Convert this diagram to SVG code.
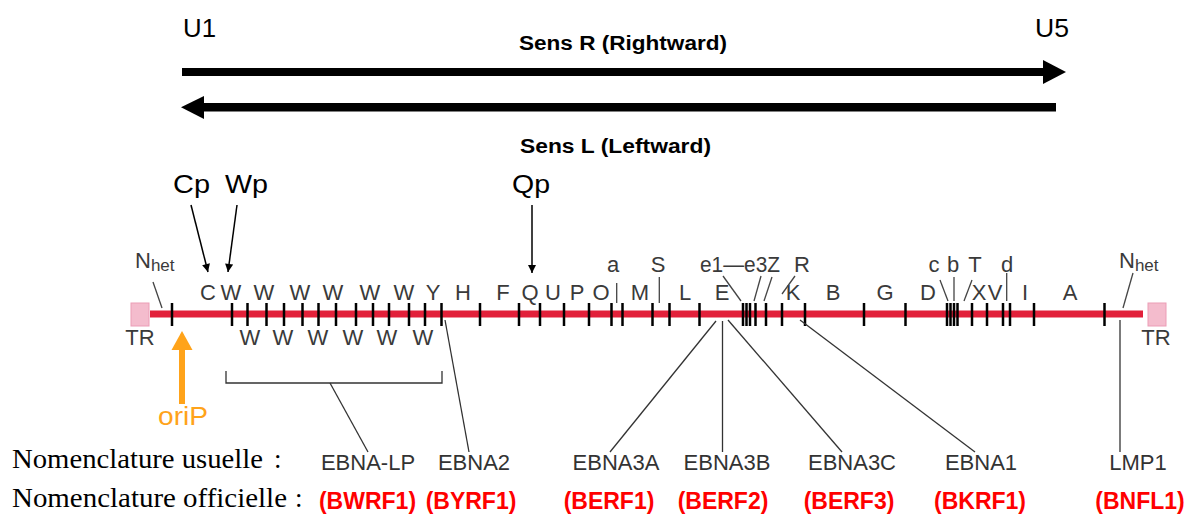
<svg xmlns="http://www.w3.org/2000/svg" width="1187" height="520" viewBox="0 0 1187 520">
<defs>
<style>
text{font-family:"Liberation Sans",Arial,sans-serif}
.big{font-size:26px;fill:#000}
.dir{font-size:19.5px;font-weight:bold;fill:#000}
.g{font-size:22px;fill:#3a3a3a;text-anchor:middle}
.lbl{font-size:22px;fill:#333;text-anchor:middle}
.red{font-size:23px;font-weight:bold;fill:#ff0000;text-anchor:middle}
.serif{font-family:"Liberation Serif","Times New Roman",serif;font-size:27px;fill:#000}
.tick{stroke:#000;stroke-width:2.5}
.thin{stroke:#444;stroke-width:1.3;fill:none}
.conn{stroke:#333;stroke-width:1.3;fill:none}
.tr{fill:#f4bccd;stroke:#ec9db6;stroke-width:1}
</style>
<marker id="ahp" viewBox="0 0 10 10" refX="10" refY="5" markerWidth="9" markerHeight="8" orient="auto" markerUnits="userSpaceOnUse">
<path d="M0,0 L10,5 L0,10 z" fill="#000"/>
</marker>
</defs>
<rect width="1187" height="520" fill="#fff"/>

<g id="direction">
<text class="big" x="183" y="37" font-size="24" textLength="33" lengthAdjust="spacingAndGlyphs">U1</text>
<text class="big" x="1035" y="37" font-size="24" textLength="34" lengthAdjust="spacingAndGlyphs">U5</text>
<text class="dir" x="519" y="50" textLength="208" lengthAdjust="spacingAndGlyphs">Sens R (Rightward)</text>
<text class="dir" x="520" y="153" textLength="191" lengthAdjust="spacingAndGlyphs">Sens L (Leftward)</text>
<rect x="182" y="68" width="862" height="8" fill="#000"/>
<polygon points="1043,60 1066,72 1043,84" fill="#000"/>
<rect x="203" y="103" width="853" height="8.5" fill="#000"/>
<polygon points="204,96 181,107.3 204,119" fill="#000"/>
</g>

<g id="genome">
<line x1="150" y1="314" x2="1143" y2="314" stroke="#e2203a" stroke-width="7"/>
<rect id="TR-left" class="tr" x="131" y="303" width="18" height="23"/>
<rect id="TR-right" class="tr" x="1148" y="303" width="18" height="23"/>
<g class="tick">
<line x1="172" y1="303" x2="172" y2="326"/>
<line x1="232" y1="303" x2="232" y2="326"/>
<line x1="247.5" y1="303" x2="247.5" y2="326"/>
<line x1="266.5" y1="303" x2="266.5" y2="326"/>
<line x1="284" y1="303" x2="284" y2="326"/>
<line x1="302.5" y1="303" x2="302.5" y2="326"/>
<line x1="318.5" y1="303" x2="318.5" y2="326"/>
<line x1="336" y1="303" x2="336" y2="326"/>
<line x1="356" y1="303" x2="356" y2="326"/>
<line x1="373" y1="303" x2="373" y2="326"/>
<line x1="389" y1="303" x2="389" y2="326"/>
<line x1="409" y1="303" x2="409" y2="326"/>
<line x1="425" y1="303" x2="425" y2="326"/>
<line x1="441.5" y1="303" x2="441.5" y2="326"/>
<line x1="480" y1="303" x2="480" y2="326"/>
<line x1="519" y1="303" x2="519" y2="326"/>
<line x1="540" y1="303" x2="540" y2="326"/>
<line x1="564" y1="303" x2="564" y2="326"/>
<line x1="589" y1="303" x2="589" y2="326"/>
<line x1="611.5" y1="303" x2="611.5" y2="326"/>
<line x1="622.5" y1="303" x2="622.5" y2="326"/>
<line x1="652.5" y1="303" x2="652.5" y2="326"/>
<line x1="669.5" y1="303" x2="669.5" y2="326"/>
<line x1="699.5" y1="303" x2="699.5" y2="326"/>
<line x1="743" y1="303" x2="743" y2="326"/>
<line x1="746.5" y1="303" x2="746.5" y2="326"/>
<line x1="750" y1="303" x2="750" y2="326"/>
<line x1="755.5" y1="303" x2="755.5" y2="326"/>
<line x1="766" y1="303" x2="766" y2="326"/>
<line x1="782" y1="303" x2="782" y2="326"/>
<line x1="805" y1="303" x2="805" y2="326"/>
<line x1="864" y1="303" x2="864" y2="326"/>
<line x1="905.5" y1="303" x2="905.5" y2="326"/>
<line x1="947" y1="303" x2="947" y2="326"/>
<line x1="950.5" y1="303" x2="950.5" y2="326"/>
<line x1="954" y1="303" x2="954" y2="326"/>
<line x1="957.5" y1="303" x2="957.5" y2="326"/>
<line x1="972" y1="303" x2="972" y2="326"/>
<line x1="987" y1="303" x2="987" y2="326"/>
<line x1="1003" y1="303" x2="1003" y2="326"/>
<line x1="1010" y1="303" x2="1010" y2="326"/>
<line x1="1034" y1="303" x2="1034" y2="326"/>
<line x1="1104.5" y1="303" x2="1104.5" y2="326"/>
</g>
</g>

<g id="fragment-labels">
<text class="g" x="208" y="300">C</text>
<text class="g" x="231" y="300">W</text>
<text class="g" x="264" y="300">W</text>
<text class="g" x="300" y="300">W</text>
<text class="g" x="333" y="300">W</text>
<text class="g" x="370" y="300">W</text>
<text class="g" x="404" y="300">W</text>
<text class="g" x="433" y="300">Y</text>
<text class="g" x="463" y="300">H</text>
<text class="g" x="503" y="300">F</text>
<text class="g" x="530" y="300">Q</text>
<text class="g" x="553" y="300">U</text>
<text class="g" x="577" y="300">P</text>
<text class="g" x="601" y="300">O</text>
<text class="g" x="640" y="300">M</text>
<text class="g" x="685" y="300">L</text>
<text class="g" x="722" y="300">E</text>
<text class="g" x="793" y="300">K</text>
<text class="g" x="833" y="300">B</text>
<text class="g" x="885" y="300">G</text>
<text class="g" x="928" y="300">D</text>
<text class="g" x="979" y="300">X</text>
<text class="g" x="995" y="300">V</text>
<text class="g" x="1025" y="300">I</text>
<text class="g" x="1070" y="300">A</text>
<text class="g" x="250" y="345">W</text>
<text class="g" x="283" y="345">W</text>
<text class="g" x="318" y="345">W</text>
<text class="g" x="353" y="345">W</text>
<text class="g" x="387" y="345">W</text>
<text class="g" x="423" y="345">W</text>
<text class="g" x="613" y="272">a</text>
<text class="g" x="658" y="272">S</text>
<text class="g" x="700" y="272" style="text-anchor:start" textLength="80" lengthAdjust="spacingAndGlyphs">e1—e3Z</text>
<text class="g" x="802" y="272">R</text>
<text class="g" x="934" y="272">c</text>
<text class="g" x="953" y="272">b</text>
<text class="g" x="975" y="272">T</text>
<text class="g" x="1007" y="272">d</text>
<text class="g" x="140" y="345">TR</text>
<text class="g" x="1156" y="345">TR</text>
<text class="g" x="135" y="268" style="text-anchor:start">N<tspan font-size="17" dy="3">het</tspan></text>
<text class="g" x="1119" y="268" style="text-anchor:start">N<tspan font-size="17" dy="3">het</tspan></text>
<g class="thin">
<line x1="616.7" y1="283" x2="616.7" y2="303"/>
<line x1="659.3" y1="277" x2="659.3" y2="303"/>
<line x1="153" y1="282" x2="162" y2="308"/>
<line x1="1133" y1="273" x2="1123" y2="308"/>
<line x1="723" y1="276" x2="741" y2="301"/>
<line x1="761" y1="276" x2="754" y2="301"/>
<line x1="772" y1="277" x2="764" y2="301"/>
<line x1="795" y1="276" x2="782" y2="294"/>
<line x1="940" y1="280" x2="948" y2="301"/>
<line x1="954" y1="277" x2="954" y2="301"/>
<line x1="972" y1="280" x2="964" y2="301"/>
<line x1="1006.7" y1="273" x2="1006.7" y2="301"/>
</g>
</g>

<g id="promoters">
<text class="big" x="173" y="193" textLength="37" lengthAdjust="spacingAndGlyphs">Cp</text>
<text class="big" x="225" y="193" textLength="43" lengthAdjust="spacingAndGlyphs">Wp</text>
<text class="big" x="512" y="193" textLength="38" lengthAdjust="spacingAndGlyphs">Qp</text>
</g>

<g id="oriP">
<polygon points="182,331 192.5,350 171.5,350" fill="#ffa31a"/>
<rect x="179" y="349" width="6" height="55" fill="#ffa31a"/>
<text x="158" y="425" font-size="25" fill="#ffa31a" textLength="50" lengthAdjust="spacingAndGlyphs">oriP</text>
</g>

<g id="connectors">
<line x1="191" y1="205" x2="208" y2="272" stroke="#000" stroke-width="1.5" marker-end="url(#ahp)"/>
<line x1="237" y1="205" x2="228" y2="272" stroke="#000" stroke-width="1.5" marker-end="url(#ahp)"/>
<line x1="532" y1="205" x2="532" y2="273" stroke="#000" stroke-width="1.5" marker-end="url(#ahp)"/>
<path class="conn" d="M226,371 V383 H442 V371"/>
<line class="conn" x1="330" y1="383" x2="368" y2="452"/>
<line class="conn" x1="445" y1="320" x2="469" y2="452"/>
<line class="conn" x1="716" y1="321" x2="610" y2="452"/>
<line class="conn" x1="722.5" y1="321" x2="722.5" y2="452"/>
<line class="conn" x1="728" y1="320" x2="842" y2="452"/>
<line class="conn" x1="800" y1="320" x2="975" y2="452"/>
<line class="conn" x1="1120" y1="320" x2="1120" y2="452"/>
</g>

<g id="genes">
<text class="lbl" x="368" y="470">EBNA-LP</text>
<text class="lbl" x="474" y="470">EBNA2</text>
<text class="lbl" x="616" y="470">EBNA3A</text>
<text class="lbl" x="727" y="470">EBNA3B</text>
<text class="lbl" x="852" y="470">EBNA3C</text>
<text class="lbl" x="981" y="470">EBNA1</text>
<text class="lbl" x="1138" y="470">LMP1</text>
<text class="red" x="367.5" y="509">(BWRF1)</text>
<text class="red" x="471" y="509">(BYRF1)</text>
<text class="red" x="609" y="509">(BERF1)</text>
<text class="red" x="723" y="509">(BERF2)</text>
<text class="red" x="849" y="509">(BERF3)</text>
<text class="red" x="980" y="509">(BKRF1)</text>
<text class="red" x="1140" y="509">(BNFL1)</text>
</g>

<g id="legend">
<text class="serif" x="12" y="468" textLength="251" lengthAdjust="spacingAndGlyphs">Nomenclature usuelle</text>
<text class="serif" x="274" y="468">:</text>
<text class="serif" x="12" y="507" textLength="275" lengthAdjust="spacingAndGlyphs">Nomenclature officielle</text>
<text class="serif" x="295" y="507">:</text>
</g>
</svg>
